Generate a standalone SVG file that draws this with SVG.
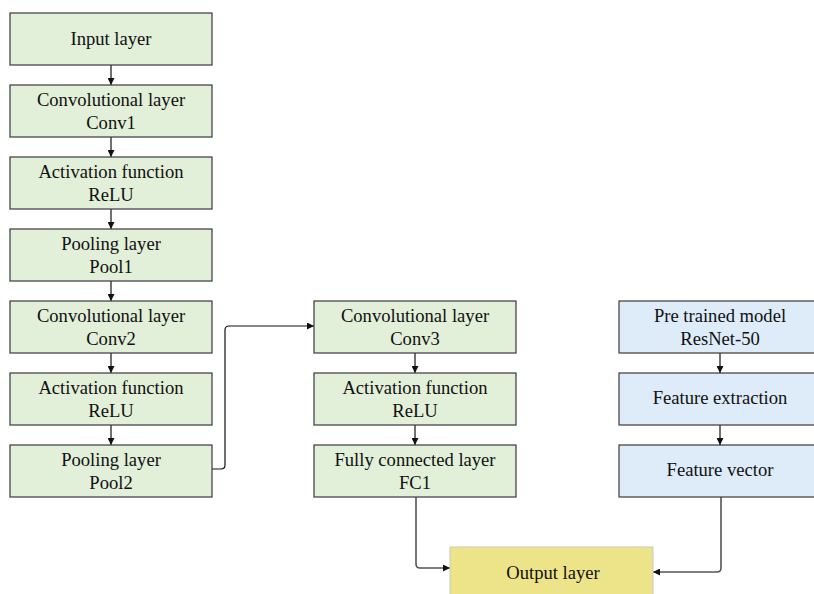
<svg xmlns="http://www.w3.org/2000/svg" width="814" height="594" viewBox="0 0 814 594">
<style>
.g{fill:#e2efd9;stroke:#3a3a3a;stroke-width:1.2}
.b{fill:#deebf8;stroke:#3a3a3a;stroke-width:1.2}
.y{fill:#ede489;stroke:#c8c8c8;stroke-width:1}
.c{fill:none;stroke:#111;stroke-width:1.2}
.c2{fill:none;stroke:#555;stroke-width:1.6}
</style>
<defs>
<marker id="a" viewBox="0 0 10 10" refX="10" refY="5" markerWidth="7" markerHeight="7" orient="auto" markerUnits="userSpaceOnUse"><path d="M0,0 L10,5 L0,10 z" fill="#111"/></marker>
</defs>
<g id="connectors">
<path class="c" d="M111,65 V85" marker-end="url(#a)"/>
<path class="c" d="M111,137 V157" marker-end="url(#a)"/>
<path class="c" d="M111,209 V229" marker-end="url(#a)"/>
<path class="c" d="M111,281 V301" marker-end="url(#a)"/>
<path class="c" d="M111,353 V373" marker-end="url(#a)"/>
<path class="c" d="M111,425 V445" marker-end="url(#a)"/>
<path class="c" d="M212,469 H221 Q225,469 225,465 V330 Q225,326 229,326 H314" marker-end="url(#a)"/>
<path class="c" d="M415,353 V373" marker-end="url(#a)"/>
<path class="c" d="M415,425 V445" marker-end="url(#a)"/>
<path class="c" d="M720,353 V373" marker-end="url(#a)"/>
<path class="c" d="M720,425 V445" marker-end="url(#a)"/>
<path class="c2" d="M416,497 V564 Q416,568 420,568 H450" marker-end="url(#a)"/>
<path class="c2" d="M721,497 V568 Q721,572 717,572 H653" marker-end="url(#a)"/>
</g>
<g font-family="Liberation Serif" font-size="18.6" fill="#111" text-anchor="middle">
<g id="n1"><rect class="g" x="10" y="13" width="202" height="52"/><text x="111" y="45">Input layer</text></g>
<g id="n2"><rect class="g" x="10" y="85" width="202" height="52"/><text x="111" y="106">Convolutional layer</text><text x="111" y="129">Conv1</text></g>
<g id="n3"><rect class="g" x="10" y="157" width="202" height="52"/><text x="111" y="178">Activation function</text><text x="111" y="201">ReLU</text></g>
<g id="n4"><rect class="g" x="10" y="229" width="202" height="52"/><text x="111" y="250">Pooling layer</text><text x="111" y="273">Pool1</text></g>
<g id="n5"><rect class="g" x="10" y="301" width="202" height="52"/><text x="111" y="322">Convolutional layer</text><text x="111" y="345">Conv2</text></g>
<g id="n6"><rect class="g" x="10" y="373" width="202" height="52"/><text x="111" y="394">Activation function</text><text x="111" y="417">ReLU</text></g>
<g id="n7"><rect class="g" x="10" y="445" width="202" height="52"/><text x="111" y="466">Pooling layer</text><text x="111" y="489">Pool2</text></g>
<g id="n8"><rect class="g" x="314" y="301" width="202" height="52"/><text x="415" y="322">Convolutional layer</text><text x="415" y="345">Conv3</text></g>
<g id="n9"><rect class="g" x="314" y="373" width="202" height="52"/><text x="415" y="394">Activation function</text><text x="415" y="417">ReLU</text></g>
<g id="n10"><rect class="g" x="314" y="445" width="202" height="52"/><text x="415" y="466">Fully connected layer</text><text x="415" y="489">FC1</text></g>
<g id="n11"><rect class="b" x="619" y="301" width="202" height="52"/><text x="720" y="322">Pre trained model</text><text x="720" y="345">ResNet-50</text></g>
<g id="n12"><rect class="b" x="619" y="373" width="202" height="52"/><text x="720" y="404">Feature extraction</text></g>
<g id="n13"><rect class="b" x="619" y="445" width="202" height="52"/><text x="720" y="476">Feature vector</text></g>
<g id="n14"><rect class="y" x="450" y="547" width="203" height="60"/><text x="553" y="579">Output layer</text></g>
</g>
</svg>
